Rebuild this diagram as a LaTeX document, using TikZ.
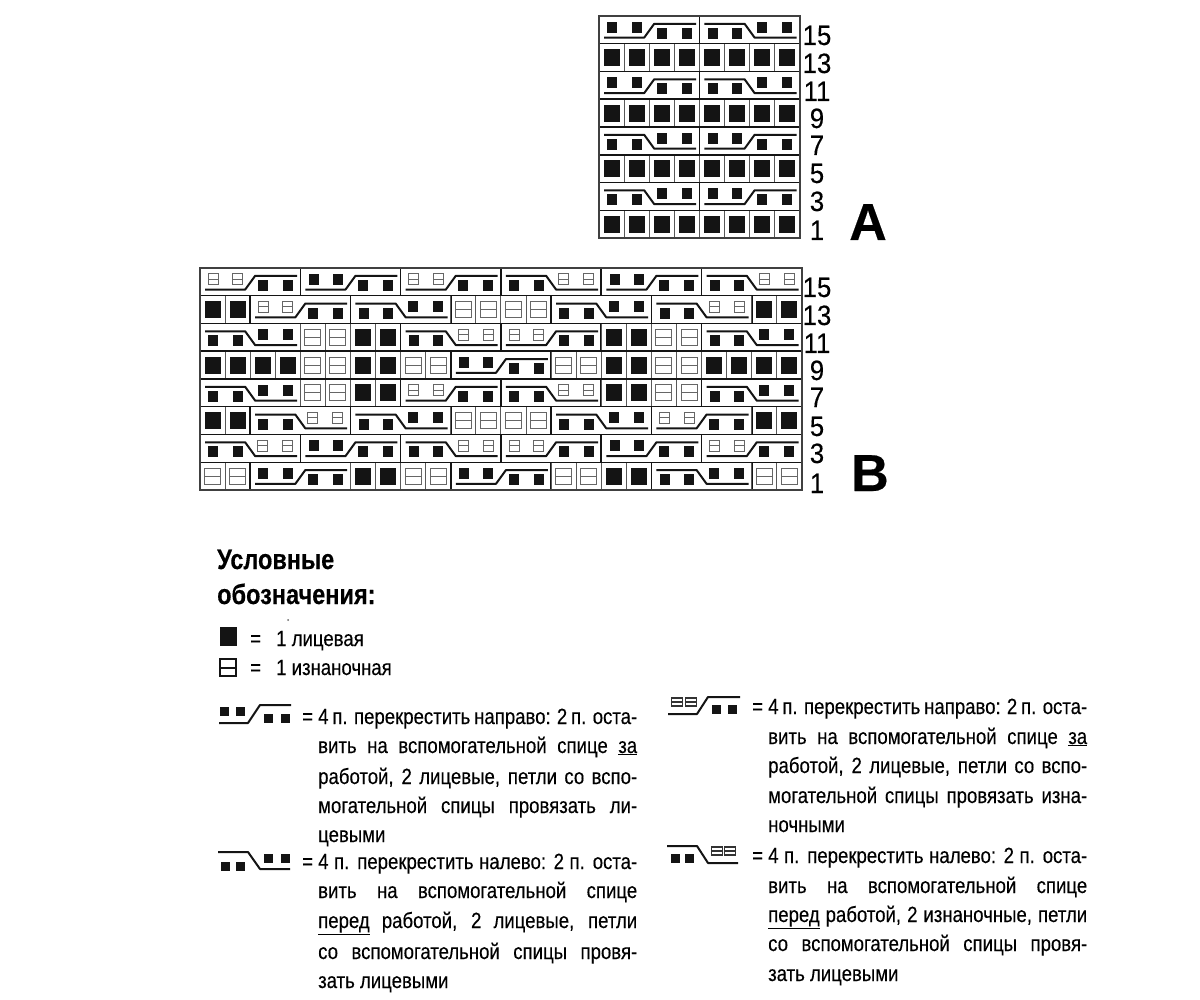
\documentclass[tikz,border=0pt]{standalone}
\usepackage{fontspec}
\setmainfont[FakeStretch=0.845,FakeBold=0.25]{Liberation Sans}
\newfontfamily\plainf[FakeStretch=0.92,FakeBold=0.2]{Liberation Sans}
\newfontfamily\headf[FakeStretch=0.84,FakeBold=0.3]{Liberation Sans}
\newfontfamily\bigf[FakeBold=0.3]{Liberation Sans}
\newcommand\bodyfs{\fontsize{22}{24}\selectfont}
\newcommand\hs{5pt}
\newcommand\vs{5.5pt}
\newcommand\lw{2pt}
\colorlet{ink}{black!92}
\colorlet{purlc}{black!60}
\colorlet{gridc}{black!65}
\newcommand\sk[2]{\fill[ink,shift={(#1,#2)}] (-\hs,-\vs) rectangle (\hs,\vs);}
\newcommand\spu[2]{\draw[purlc,line width=1pt,shift={(#1,#2)}] (-\hs,-\vs) rectangle (\hs,\vs) (-\hs,0pt) -- (\hs,0pt);}
\newcommand\spl[2]{\draw[black!80,line width=1.1pt,shift={(#1,#2)}] (-5.5pt,-4pt) rectangle (5.5pt,4pt) (-5.5pt,0pt) -- (5.5pt,0pt);}
\newcommand\symS[3]{%
 #3{#1+.53}{#2+.4}#3{#1+1.5}{#2+.4}\sk{#1+2.5}{#2+.63}\sk{#1+3.5}{#2+.63}
 \draw[ink,line width=\lw,line join=round] (#1+.2,#2+.78) -- (#1+1.8,#2+.78) -- (#1+2.2,#2+.28) -- (#1+3.87,#2+.28);}
\newcommand\symB[3]{%
 \sk{#1+.53}{#2+.63}\sk{#1+1.5}{#2+.63}#3{#1+2.5}{#2+.4}#3{#1+3.5}{#2+.4}
 \draw[ink,line width=\lw,line join=round] (#1+.2,#2+.28) -- (#1+1.8,#2+.28) -- (#1+2.2,#2+.78) -- (#1+3.87,#2+.78);}
\newcommand\bars[2]{\draw[ink,line width=1.6pt] (#1,#2) -- (#1,#2+1) (#1+4,#2) -- (#1+4,#2+1);}
\newcommand\bS[3]{\bars{#1}{#2}\symS{#1}{#2}{#3}}
\newcommand\bB[3]{\bars{#1}{#2}\symB{#1}{#2}{#3}}
\newcommand\vl[2]{\draw[gridc,line width=1pt] (#1,#2) -- (#1,#2+1) (#1+1,#2) -- (#1+1,#2+1);}
\newcommand\kc[2]{\vl{#1}{#2}\fill[ink,shift={(#1+.5,#2+.5)}] (-8pt,-8.5pt) rectangle (8pt,8.5pt);}
\newcommand\pc[2]{\vl{#1}{#2}\draw[purlc,line width=1pt,shift={(#1+.5,#2+.5)}] (-8pt,-8pt) rectangle (8pt,8pt) (-8pt,0pt) -- (8pt,0pt);}
\newcommand\txt[3]{\node[anchor=base west,inner sep=0pt,font=\bodyfs] at (#1,#2) {#3};}
\newcommand\jtxt[3]{\node[anchor=base west,inner sep=0pt,font=\bodyfs] at (#1,#2) {\hbox to 319pt{#3}};}
\newcommand\numl[3]{\node[anchor=base,inner sep=0pt,font=\plainf\fontsize{28}{28}\selectfont] at (#1,#2) {#3};}
\begin{document}
\begin{tikzpicture}[x=1pt,y=-1pt]
\useasboundingbox (0,0) rectangle (1200,1000);
\fill[white] (0,0) rectangle (1200,1000);
% chart A
\begin{scope}[shift={(599pt,-16pt)},x=25.1pt,y=-27.75pt]
 \foreach \r in {1,3,5,7}{\foreach \c in {0,...,7}{\kc{\c}{\r}}}
 \bS{0}{0}{\sk}\bB{4}{0}{\sk}
 \bS{0}{2}{\sk}\bB{4}{2}{\sk}
 \bB{0}{4}{\sk}\bS{4}{4}{\sk}
 \bB{0}{6}{\sk}\bS{4}{6}{\sk}
 \foreach \r in {1,...,7}{\draw[ink,line width=1.1pt] (0,\r) -- (8,\r);}
 \draw[ink,line width=2pt] (0,3) -- (8,3) (0,5) -- (8,5);
 \draw[black!75,line width=1.4pt] (0,0) rectangle (8,8);
\end{scope}
% chart B
\begin{scope}[shift={(200pt,-268pt)},x=25.08pt,y=-27.75pt]
 \bS{0}{0}{\spu}\bS{4}{0}{\sk}\bS{8}{0}{\spu}\bB{12}{0}{\spu}\bS{16}{0}{\sk}\bB{20}{0}{\spu}
 \kc{0}{1}\kc{1}{1}\bS{2}{1}{\spu}\bB{6}{1}{\sk}\pc{10}{1}\pc{11}{1}\pc{12}{1}\pc{13}{1}\bB{14}{1}{\sk}\bB{18}{1}{\spu}\kc{22}{1}\kc{23}{1}
 \bB{0}{2}{\sk}\pc{4}{2}\pc{5}{2}\kc{6}{2}\kc{7}{2}\bB{8}{2}{\spu}\bS{12}{2}{\spu}\kc{16}{2}\kc{17}{2}\pc{18}{2}\pc{19}{2}\bB{20}{2}{\sk}
 \kc{0}{3}\kc{1}{3}\kc{2}{3}\kc{3}{3}\pc{4}{3}\pc{5}{3}\kc{6}{3}\kc{7}{3}\pc{8}{3}\pc{9}{3}\bS{10}{3}{\sk}\pc{14}{3}\pc{15}{3}\kc{16}{3}\kc{17}{3}\pc{18}{3}\pc{19}{3}\kc{20}{3}\kc{21}{3}\kc{22}{3}\kc{23}{3}
 \bB{0}{4}{\sk}\pc{4}{4}\pc{5}{4}\kc{6}{4}\kc{7}{4}\bS{8}{4}{\spu}\bB{12}{4}{\spu}\kc{16}{4}\kc{17}{4}\pc{18}{4}\pc{19}{4}\bB{20}{4}{\sk}
 \kc{0}{5}\kc{1}{5}\bB{2}{5}{\spu}\bB{6}{5}{\sk}\pc{10}{5}\pc{11}{5}\pc{12}{5}\pc{13}{5}\bB{14}{5}{\sk}\bS{18}{5}{\spu}\kc{22}{5}\kc{23}{5}
 \bB{0}{6}{\spu}\bS{4}{6}{\sk}\bB{8}{6}{\spu}\bS{12}{6}{\spu}\bS{16}{6}{\sk}\bS{20}{6}{\spu}
 \pc{0}{7}\pc{1}{7}\bS{2}{7}{\sk}\kc{6}{7}\kc{7}{7}\pc{8}{7}\pc{9}{7}\bS{10}{7}{\sk}\pc{14}{7}\pc{15}{7}\kc{16}{7}\kc{17}{7}\bB{18}{7}{\sk}\pc{22}{7}\pc{23}{7}
 \foreach \r in {1,...,7}{\draw[ink,line width=1.1pt] (0,\r) -- (24,\r);}
 \draw[ink,line width=2pt] (0,3) -- (24,3);
 \draw[black!75,line width=1.4pt] (0,0) rectangle (24,8);
\end{scope}
% row numbers
\numl{817}{45}{15}\numl{817}{73}{13}\numl{817}{101}{11}\numl{817}{128}{9}\numl{817}{155}{7}\numl{817}{183}{5}\numl{817}{211}{3}\numl{817}{240}{1}
\numl{817}{297}{15}\numl{817}{325}{13}\numl{817}{353}{11}\numl{817}{380}{9}\numl{817}{407}{7}\numl{817}{436}{5}\numl{817}{463}{3}\numl{817}{493}{1}
\node[anchor=base,inner sep=0pt,font=\bigf\bfseries\fontsize{52}{52}\selectfont] (lblA) at (868,240) {A};
\node[anchor=base,inner sep=0pt,font=\bigf\bfseries\fontsize{52}{52}\selectfont] (lblB) at (870,491) {B};
% legend heading
\node[anchor=base west,inner sep=0pt,font=\headf\bfseries\fontsize{28}{28}\selectfont] (h1) at (217,569) {Условные};
\node[anchor=base west,inner sep=0pt,font=\headf\bfseries\fontsize{28}{28}\selectfont] (h2) at (217,604) {обозначения:};
\fill[ink] (220,627) rectangle (237,646);
\draw[ink,line width=1.6pt] (220,659) rectangle (236,676) (220,668) -- (236,668);
\fill[black!60] (288,620) circle (1);
\txt{250}{646}{=}\txt{276}{646}{1 лицевая}
\txt{250}{675}{=}\txt{276}{675}{1 изнаночная}
% left entry symbols
\renewcommand\hs{4.5pt}\renewcommand\vs{4.5pt}
\sk{224}{711}\sk{240}{711}\sk{268}{718}\sk{285}{718}
\draw[ink,line width=\lw,line join=round] (219,723) -- (248,723) -- (260,705) -- (291,705);
\sk{225}{866}\sk{240}{866}\sk{268}{858}\sk{285}{858}
\draw[ink,line width=\lw,line join=round] (218,852) -- (248,852) -- (260,869) -- (290,869);
% right entry symbols
\spl{677}{702}\spl{691}{702}\sk{716}{709}\sk{732}{709}
\draw[ink,line width=\lw,line join=round] (668,714) -- (697,714) -- (708,697) -- (740,697);
\sk{675.5}{858}\sk{689.5}{858}\spl{717}{851}\spl{730}{851}
\draw[ink,line width=\lw,line join=round] (667,846) -- (697,846) -- (708,863) -- (738,863);
% left entries
\txt{302}{724}{=}\jtxt{318}{724}{4 п. перекрестить направо: 2 п. оста-}
\jtxt{318}{753}{вить на вспомогательной спице \underline{за}}
\jtxt{318}{784}{работой, 2 лицевые, петли со вспо-}
\jtxt{318}{813}{могательной спицы провязать ли-}
\txt{318}{842}{цевыми}
\txt{302}{869}{=}\jtxt{318}{869}{4 п. перекрестить налево: 2 п. оста-}
\jtxt{318}{898}{вить на вспомогательной спице}
\jtxt{318}{928}{\underline{перед} работой, 2 лицевые, петли}
\jtxt{318}{959}{со вспомогательной спицы провя-}
\txt{318}{988}{зать лицевыми}
% right entries
\txt{752}{714}{=}\jtxt{768}{714}{4 п. перекрестить направо: 2 п. оста-}
\jtxt{768}{744}{вить на вспомогательной спице \underline{за}}
\jtxt{768}{773}{работой, 2 лицевые, петли со вспо-}
\jtxt{768}{803}{могательной спицы провязать изна-}
\txt{768}{832}{ночными}
\txt{752}{863}{=}\jtxt{768}{863}{4 п. перекрестить налево: 2 п. оста-}
\jtxt{768}{893}{вить на вспомогательной спице}
\jtxt{768}{922}{\underline{перед} работой, 2 изнаночные, петли}
\jtxt{768}{951}{со вспомогательной спицы провя-}
\txt{768}{981}{зать лицевыми}
\end{tikzpicture}
\end{document}
